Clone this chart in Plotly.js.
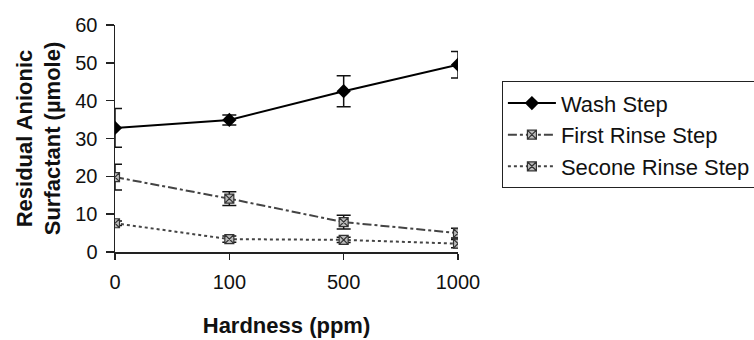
<!DOCTYPE html>
<html>
<head>
<meta charset="utf-8">
<script src="https://cdn.plot.ly/plotly-3.0.1.min.js"></script>
<style>html,body{margin:0;padding:0;background:#fff;}#chart{width:754px;height:340px;}</style>
</head>
<body>
<div id="chart"></div>
<script>
const categories = ["0", "100", "500", "1000"];
const washStep = [32.8, 34.9, 42.5, 49.5];
const washErr = [5.1, 1.3, 4.1, 3.5];
const firstRinse = [19.8, 14.1, 7.9, 5.0];
const firstRinseErr = [3.4, 1.8, 1.8, 1.3];
const secondRinse = [7.6, 3.4, 3.2, 2.2];
const secondRinseErr = [0.6, 0.8, 0.7, 1.1];
const seriesNames = ["Wash Step", "First Rinse Step", "Secone Rinse Step"];

const FONT = "Liberation Sans, Arial, sans-serif";
const errStyle = (arr) => ({type: "data", array: arr, visible: true, color: "#111", thickness: 1.5, width: 7});

const traces = [
  {
    x: categories, y: washStep, name: seriesNames[0], type: "scatter", mode: "lines+markers",
    legendgroup: "a",
    line: {color: "#000", width: 2},
    marker: {symbol: "diamond", size: 11, color: "#000"},
    error_y: errStyle(washErr)
  },
  {
    x: categories, y: firstRinse, name: seriesNames[1], type: "scatter", mode: "lines+markers",
    legendgroup: "b",
    line: {color: "#444", width: 2, dash: "dashdot"},
    marker: {symbol: "square-x", size: 9, color: "#bbb", line: {color: "#333", width: 1.2}},
    error_y: errStyle(firstRinseErr)
  },
  {
    x: categories, y: secondRinse, name: seriesNames[2], type: "scatter", mode: "lines+markers",
    legendgroup: "c",
    line: {color: "#444", width: 2, dash: "dot"},
    marker: {symbol: "square-x", size: 9, color: "#bbb", line: {color: "#333", width: 1.2}},
    error_y: errStyle(secondRinseErr)
  }
];

const layout = {
  width: 754, height: 340,
  paper_bgcolor: "#fff", plot_bgcolor: "#fff",
  margin: {l: 115, r: 296, t: 25, b: 88, pad: 0, autoexpand: false},
  font: {family: FONT, color: "#111", size: 20},
  showlegend: true,
  legend: {
    x: 1.128, xanchor: "left", y: 0.752, yanchor: "top",
    bordercolor: "#222", borderwidth: 1, bgcolor: "#fff",
    font: {family: FONT, size: 22, color: "#111"},
    traceorder: "grouped", tracegroupgap: 0, itemwidth: 48
  },
  xaxis: {
    type: "category", range: [0, 3],
    showline: true, linecolor: "#222", linewidth: 1.5,
    ticks: "outside", ticklen: 6, tickcolor: "#222", tickwidth: 1.5,
    showgrid: false, zeroline: false, automargin: false,
    tickfont: {family: FONT, size: 20, color: "#111"},
    ticklabelstandoff: 5,
    title: {text: "<b>Hardness (ppm)</b>", font: {family: FONT, size: 22, color: "#111"}, standoff: 26}
  },
  yaxis: {
    range: [0, 60], dtick: 10,
    showline: true, linecolor: "#222", linewidth: 1.5,
    ticks: "outside", ticklen: 8, tickcolor: "#222", tickwidth: 1.5,
    showgrid: false, zeroline: false, automargin: false,
    tickfont: {family: FONT, size: 20, color: "#111"},
    ticklabelstandoff: 4,
    title: {text: "<b>Residual Anionic<br>Surfactant (µmole)</b>", font: {family: FONT, size: 22, color: "#111"}, standoff: 8}
  }
};

Plotly.newPlot("chart", traces, layout, {displayModeBar: false, staticPlot: true});
</script>
</body>
</html>
